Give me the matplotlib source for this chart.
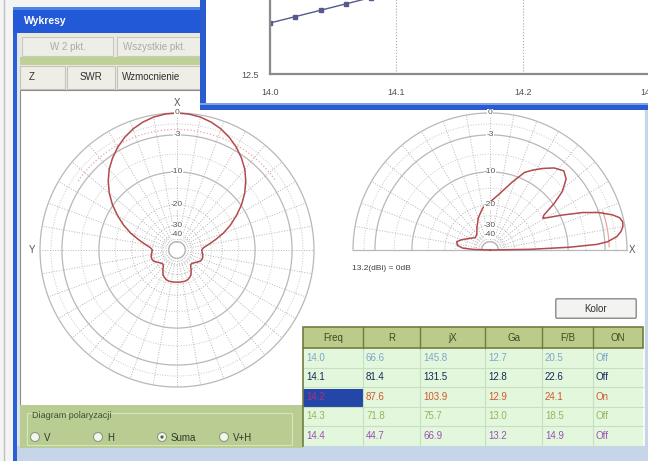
import numpy as np
import matplotlib.pyplot as plt
from matplotlib.patches import Rectangle, Circle, FancyBboxPatch

plt.rcParams['font.family'] = ['Liberation Sans', 'DejaVu Sans']

W, H = 648, 461

# gain vs frequency (overlay window)
gain_freq = [14.00, 14.02, 14.04, 14.06, 14.08, 14.10, 14.20, 14.30, 14.40]
gain_val = [12.70, 12.725, 12.75, 12.775, 12.80, 12.83, 12.90, 13.00, 13.20]
freq_ticks = [14.0, 14.1, 14.2, 14.3]
gain_ticks = [12.5]

# horizontal pattern, angle from X (top) clockwise, normalised radius
az_deg = list(range(0, 365, 5))
az_r = [1.00, 0.996, 0.985, 0.966, 0.94, 0.906, 0.866, 0.82, 0.77, 0.71,
        0.645, 0.575, 0.50, 0.43, 0.36, 0.29, 0.235, 0.195, 0.18, 0.185,
        0.19, 0.195, 0.195, 0.19, 0.175, 0.16, 0.15, 0.145, 0.155, 0.18,
        0.205, 0.22, 0.23, 0.235, 0.235, 0.235, 0.235,
        0.235, 0.235, 0.235, 0.23, 0.22, 0.205, 0.18, 0.155, 0.145, 0.15,
        0.16, 0.175, 0.19, 0.195, 0.195, 0.19, 0.185, 0.18, 0.195, 0.235,
        0.29, 0.36, 0.43, 0.50, 0.575, 0.645, 0.71, 0.77, 0.82, 0.866,
        0.906, 0.94, 0.966, 0.985, 0.996, 1.00]

# vertical pattern, elevation angle in degrees, normalised radius
el_deg = [0, 1, 2, 3, 4, 6, 8, 10, 12, 14, 16, 19, 22, 26, 29, 31, 33, 36, 39,
          43, 47, 52, 57, 62, 66, 72, 80, 90, 100, 110, 120, 130, 140, 150,
          160, 166, 172, 176, 178, 180]
el_r = [0, 0.30, 0.58, 0.78, 0.86, 0.93, 0.965, 0.985, 0.99, 0.975, 0.93,
        0.84, 0.73, 0.58, 0.49, 0.45, 0.47, 0.58, 0.68, 0.76, 0.79, 0.76,
        0.71, 0.66, 0.62, 0.52, 0.42, 0.35, 0.31, 0.25, 0.19, 0.15, 0.14,
        0.17, 0.22, 0.25, 0.24, 0.20, 0.12, 0]

ring_lbl = ['0', '-3', '-10', '-20', '-30', '-40']
ring_r = [1.0, 0.84, 0.57, 0.33, 0.18, 0.11]
minor_r = [0.92, 0.70, 0.45, 0.25]

# table
tab_cols = ['Freq', 'R', 'jX', 'Ga', 'F/B', 'ON']
t_freq = ['14.0', '14.1', '14.2', '14.3', '14.4']
t_R = ['66.6', '81.4', '87.6', '71.8', '44.7']
t_jX = ['145.8', '131.5', '103.9', '75.7', '66.9']
t_Ga = ['12.7', '12.8', '12.9', '13.0', '13.2']
t_FB = ['20.5', '22.6', '24.1', '18.5', '14.9']
t_on = ['Off', 'Off', 'On', 'Off', 'Off']
row_colors = ['#7da6c9', '#15285a', '#d0582c', '#98b45a', '#9b4fb5']

fig = plt.figure(figsize=(6.48, 4.61), dpi=100)
bg = fig.add_axes([0, 0, 1, 1])
bg.set_xlim(0, W)
bg.set_ylim(H, 0)
bg.axis('off')


def box(x0, y0, x1, y1, fc, ec='none', lw=0):
    bg.add_patch(Rectangle((x0, y0), x1 - x0, y1 - y0, fc=fc, ec=ec, lw=lw))


def txt(x, y, s, **kw):
    kw.setdefault('fontsize', 7)
    kw.setdefault('va', 'center')
    bg.text(x, y, s, **kw)


# desktop + main window
box(0, 0, W, H, '#f4f4f4')
bg.plot([4, 4], [0, H], color='#c0c0c0', lw=1)
box(13, 7, W, H, '#2b5fd3')
box(17, 33, W, H, '#ecebe3')
box(17, 33, 20, H, '#dfe6f2')
box(13, 7, 200, 33, '#2159d6')
box(13, 7, 200, 10, '#4c82ec')
txt(24, 21, 'Wykresy', color='white', fontweight='bold', fontsize=7.5)

# toolbar, strip and tabs
box(20, 33, 200, 57, '#e9e9e0')
for x0, x1, s in [(22, 113, 'W 2 pkt.'), (117, 205, 'Wszystkie pkt.')]:
    box(x0, 37, x1, 56, '#eeeee8', ec='#c9c9c0', lw=0.8)
    txt((x0 + x1) / 2 if x1 < 150 else x0 + 6, 46.5, s, color='#aaaaaa',
        ha='center' if x1 < 150 else 'left')
box(20, 57, 200, 65, '#bfd196')
box(20, 65, 200, 90, '#ecebe3')
for x0, x1 in [(20, 65), (67, 115), (117, 205)]:
    box(x0, 66, x1, 89, '#eeede6', ec='#c4c4bc', lw=0.8)
txt(29, 77.5, 'Z', color='#303030')
txt(91, 77.5, 'SWR', color='#303030', ha='center')
txt(122, 77.5, 'Wzmocnienie', color='#303030')

# plot panel
box(20, 90, 645, 446, 'white', ec='#8c8c8c', lw=0.8)
box(645, 90, W, 446, '#c7d5e9')
box(17, 446, W, H, '#c7d5e9')

# polarisation group box
box(20, 405, 303, 448, '#b9cd92')
bg.add_patch(Rectangle((27, 413), 265, 32, fc='none', ec='#d6e4bf', lw=0.8))
txt(32, 415, 'Diagram polaryzacji', color='#3c4e30', fontsize=6.5)
for cx, s, on in [(35, 'V', False), (98, 'H', False),
                  (162, 'Suma', True), (224, 'V+H', False)]:
    bg.add_patch(Circle((cx, 437), 4.5, fc='#f4f6ee', ec='#8b9a80', lw=0.8))
    if on:
        bg.add_patch(Circle((cx, 437), 1.6, fc='#506040', ec='none'))
    txt(cx + 9, 437.5, s, color='#303a2a')

# Kolor button
bg.add_patch(FancyBboxPatch((557, 300), 78, 17, boxstyle='round,pad=1.2',
                            fc='#f3f3f1', ec='#7c7c7c', lw=0.9))
txt(596, 308.5, 'Kolor', color='#303030', ha='center')
txt(352, 268, '13.2(dBi) = 0dB', color='#404040', fontsize=6)

# table
col_x = [303, 363, 420, 485, 542, 593, 643]
hdr_top, hdr_bot, row_h = 327, 348, 19.5
box(col_x[0], hdr_top, col_x[-1], hdr_bot, '#bccb8a')
box(col_x[0], hdr_bot, col_x[-1], hdr_bot + 5 * row_h, '#e3f7dd')
box(col_x[0], 388 + 0.5, col_x[1], 387 + row_h, '#2446a8')
for i in range(1, 5):
    y = hdr_bot + i * row_h
    bg.plot([col_x[0], col_x[-1]], [y, y], color='#c6dfc0', lw=0.8)
for x in col_x[1:-1]:
    bg.plot([x, x], [hdr_bot, hdr_bot + 5 * row_h], color='#c6dfc0', lw=0.8)
    bg.plot([x, x], [hdr_top, hdr_bot], color='#6f7e40', lw=1)
bg.add_patch(Rectangle((col_x[0], hdr_top), col_x[-1] - col_x[0],
                       hdr_bot - hdr_top, fc='none', ec='#6f7e40', lw=1.2))
bg.plot([col_x[0], col_x[0]], [hdr_bot, hdr_bot + 5 * row_h], color='#6f7e40', lw=1.2)
for j, c in enumerate(tab_cols):
    txt((col_x[j] + col_x[j + 1]) / 2, (hdr_top + hdr_bot) / 2, c,
        color='#3e4a1e', ha='center')
rows = list(zip(t_freq, t_R, t_jX, t_Ga, t_FB, t_on))
for i, row in enumerate(rows):
    yc = hdr_bot + (i + 0.5) * row_h
    for j, v in enumerate(row):
        col = row_colors[i]
        if i == 2 and j == 0:
            col = '#b0307a'
        txt(col_x[j] + 3, yc, v, color=col)

# overlay gain window
box(200, 0, W, 110, '#2a5cd0')
box(200, 103, W, 105, '#7ea2ea')
box(206, 0, W, 103, 'white')

ga = fig.add_axes([270 / W, (H - 74) / H, 506 / W, 204 / H])
ga.set_facecolor('none')
ga.plot(gain_freq, gain_val, color='#55598c', lw=1, marker='s', ms=2.5)
ga.set_xlim(14.0, 14.4)
ga.set_ylim(12.5, 13.3)
ga.set_xticks(freq_ticks)
ga.set_xticklabels(['%.1f' % f for f in freq_ticks])
ga.set_yticks(gain_ticks)
ga.set_yticklabels(['%.1f' % g for g in gain_ticks])
ga.tick_params(length=0, labelsize=6.5, labelcolor='#505050')
ga.tick_params(axis='x', pad=10)
ga.tick_params(axis='y', pad=8)
ga.grid(axis='x', ls=':', color='#a8a8a8', lw=0.8)
for s in ['top', 'right']:
    ga.spines[s].set_visible(False)
for s in ['left', 'bottom']:
    ga.spines[s].set_color('#8a8a8a')
    ga.spines[s].set_linewidth(1.6)

pat_col = '#b24a4e'
grid_col = '#b8b8b8'


def polar_grid(ax, t0, t1, lbl_theta):
    th = np.linspace(t0, t1, 300)
    for r in ring_r:
        solid = r in (1.0, 0.84, 0.57)
        ax.plot(th, np.full_like(th, r), color=grid_col,
                lw=0.9 if solid else 0.75, ls='-' if solid else ':', clip_on=False)
    for r in minor_r:
        ax.plot(th, np.full_like(th, r), color='#c8c8c8', lw=0.7, ls=':', clip_on=False)
    ax.plot(th, np.full_like(th, 0.06), color=grid_col, lw=0.9, clip_on=False)
    for a in np.deg2rad(np.arange(0, 360, 10)):
        if t0 - 1e-6 <= a <= t1 + 1e-6:
            ax.plot([a, a], [0.06, 1.0], color='#b4b4b4', lw=0.7, ls=':', clip_on=False)
    for r, s in zip(ring_r, ring_lbl):
        ax.text(lbl_theta, r, s, fontsize=6, color='#555555', ha='center', va='center',
                bbox=dict(fc='white', ec='none', pad=0.2))


# horizontal (azimuth) pattern
pa = fig.add_axes([(177 - 137) / W, (H - 250 - 137) / H, 274 / W, 274 / H],
                  projection='polar')
pa.set_theta_zero_location('N')
pa.set_theta_direction(-1)
pa.set_ylim(0, 1)
pa.axis('off')
polar_grid(pa, 0, 2 * np.pi, 0)
arc = np.linspace(np.deg2rad(-55), np.deg2rad(55), 100)
pa.plot(arc, np.full_like(arc, 0.88), color='#f0a3a3', lw=0.9, ls=':')
pa.plot(np.deg2rad(az_deg), az_r, color=pat_col, lw=1.1, clip_on=False)
pa.text(0, 1.07, 'X', fontsize=7, color='#555555', ha='center', va='center')
pa.text(np.deg2rad(270), 1.055, 'Y', fontsize=7, color='#555555', ha='center', va='center')

# vertical (elevation) pattern
pe = fig.add_axes([(490 - 137) / W, (H - 250 - 137) / H, 274 / W, 274 / H],
                  projection='polar')
pe.set_ylim(0, 1)
pe.axis('off')
polar_grid(pe, 0, np.pi, np.pi / 2)
pe.plot([0, 0], [0, 1], color=grid_col, lw=0.9, clip_on=False)
pe.plot([np.pi, np.pi], [0, 1], color=grid_col, lw=0.9, clip_on=False)
arc = np.linspace(np.deg2rad(1.5), np.deg2rad(19), 40)
pe.plot(arc, np.full_like(arc, 0.87), color='#f0a3a3', lw=0.9)
pe.plot(np.deg2rad(el_deg), el_r, color=pat_col, lw=1.1, clip_on=False)
pe.text(0, 1.04, 'X', fontsize=7, color='#555555', ha='center', va='center')

fig.savefig('out.png', dpi=100)
